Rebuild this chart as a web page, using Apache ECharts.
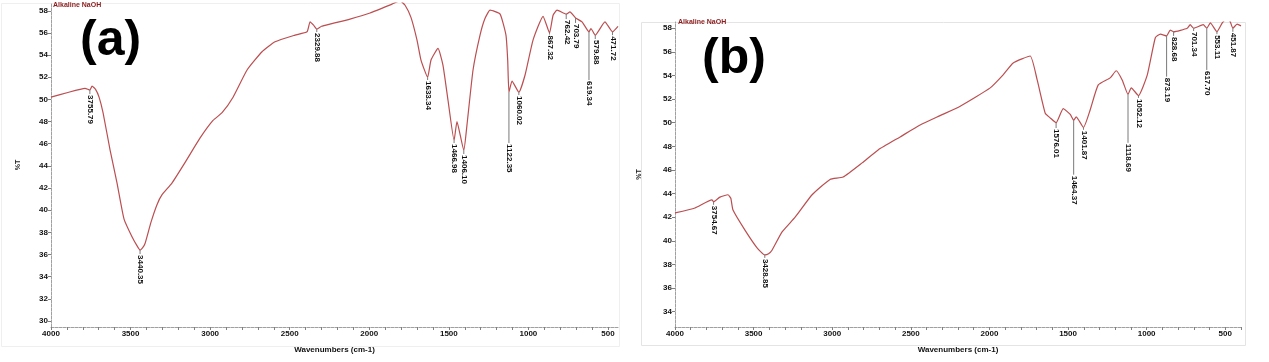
<!DOCTYPE html>
<html><head><meta charset="utf-8">
<script src="https://cdn.jsdelivr.net/npm/echarts@6/dist/echarts.min.js"></script>
<style>html,body{margin:0;padding:0;background:#fff}#c{width:1269px;height:362px}</style>
</head><body><div id="c"></div>
<script>
// ---- DATA ----
// Panel (a): [wavenumber cm-1, %T]
const spectrumA = [[4000,50.2],[3900,50.6],[3786,51.0],[3755.79,50.84],[3742,51.2],[3720,50.9],[3698,50.2],[3673,48.8],[3629,45.45],[3585,42.45],[3541,39.2],[3491,37.6],[3460,36.8],[3440.35,36.4],[3425,36.6],[3409,37.0],[3372,38.9],[3334,40.5],[3302,41.4],[3240,42.45],[3158,44.3],[3064,46.5],[2982,48.1],[2925,48.8],[2856,50.2],[2768,52.65],[2674,54.3],[2592,55.2],[2467,55.8],[2391,56.1],[2372,57.0],[2350,56.7],[2329.88,56.35],[2300,56.6],[2247,56.8],[2121,57.25],[1995,57.8],[1857,58.6],[1807,58.9],[1775,58.5],[1738,57.4],[1700,55.35],[1675,53.55],[1633.34,52.0],[1612,53.55],[1568,54.6],[1537,53.1],[1505,49.9],[1466.98,46.3],[1449,48.0],[1406.10,45.4],[1386,47.7],[1348,52.65],[1304,55.8],[1273,57.3],[1241,58.05],[1178,57.7],[1141,55.8],[1130,53.5],[1122.35,50.65],[1103,51.65],[1060.02,50.65],[1021,52.2],[971,55.35],[908,57.5],[867.32,56.0],[845,57.6],[820,58.06],[762.42,57.7],[739,57.9],[703.79,57.35],[663,57.0],[619.34,56.1],[607,56.4],[579.88,55.8],[519,57.0],[471.72,56.1],[437,56.6]];
// Panel (b)
const spectrumB = [[4000,42.36],[3873,42.78],[3765,43.46],[3754.67,43.3],[3714,43.7],[3663,43.9],[3645,43.6],[3631,42.6],[3555,40.9],[3478,39.4],[3428.85,38.8],[3405,38.9],[3383,39.2],[3319,40.75],[3236,42.0],[3128,43.9],[3014,45.2],[2931,45.4],[2810,46.6],[2708,47.7],[2568,48.8],[2441,49.8],[2314,50.6],[2186,51.4],[1995,52.95],[1913,54.05],[1849,55.06],[1741,55.65],[1696,53.6],[1645,50.8],[1613,50.4],[1576.01,50.0],[1531,51.2],[1486,50.7],[1464.37,50.2],[1448,50.5],[1401.87,49.6],[1359,51.1],[1308,53.2],[1232,53.8],[1194,54.4],[1155,53.6],[1118.69,52.4],[1098,52.95],[1052.12,52.3],[996,54.05],[945,57.2],[913,57.5],[873.19,57.35],[850,57.85],[828.68,57.7],[742,58.0],[723,58.3],[701.34,58.0],[640,58.3],[617.70,58.0],[595,58.45],[553.11,57.7],[519,58.45],[491,58.8],[470,58.6],[451.87,58.0],[425,58.35],[400,58.2]];
// Peak annotations: [wavenumber, %T at curve, %T where label starts]
const peaksA = [[3755.79,50.84,50.48],[3440.35,36.4,36.04],[2329.88,56.35,56.08],[1633.34,52.0,51.75],[1466.98,46.3,46.06],[1406.10,45.4,45.07],[1122.35,50.65,46.06],[1060.02,50.65,50.39],[867.32,56.0,55.85],[762.42,57.7,57.25],[703.79,57.35,56.9],[619.34,56.1,51.75],[579.88,55.8,55.45],[471.72,56.1,55.8]];
const peaksB = [[3754.67,43.3,43.05],[3428.85,38.8,38.55],[1576.01,50.0,49.55],[1464.37,50.2,45.6],[1401.87,49.6,49.4],[1118.69,52.4,48.3],[1052.12,52.3,52.1],[873.19,57.35,53.9],[828.68,57.7,57.35],[701.34,58.0,57.77],[617.70,58.0,54.47],[553.11,57.7,57.5],[451.87,58.0,57.7]];
// Tick labels
const xLabels = [4000,3500,3000,2500,2000,1500,1000,500];
const xTicksA = [];
for (let v = 4000; v >= 437; v -= 100) xTicksA.push(v);
const xTicksB = [];
for (let v = 4000; v >= 400; v -= 100) xTicksB.push(v);
const yLabelsA = [30,32,34,36,38,40,42,44,46,48,50,52,54,56,58];
const yLabelsB = [34,36,38,40,42,44,46,48,50,52,54,56,58];

// ---- CHART ----
const FONT = '"Liberation Sans", Arial, sans-serif';
const chart = echarts.init(document.getElementById('c'), null, {renderer:'canvas'});
const plain = function (v) { return String(v); };

function xAxisCfg(gi, min, ticks) {
  return {
    gridIndex: gi, type: 'value', inverse: true, min: min, max: 4000,
    axisLine: {show: true, onZero: false, lineStyle: {color: '#a0a0a0', width: 1, type: [3, 1]}},
    axisTick: {show: true, customValues: ticks, length: 3, lineStyle: {color: '#808080'}},
    axisLabel: {customValues: xLabels, formatter: plain, fontSize: 8, fontWeight: 'bold', color: '#111', margin: 3, fontFamily: FONT},
    splitLine: {show: false},
    name: 'Wavenumbers (cm-1)', nameLocation: 'middle', nameGap: 19,
    nameTextStyle: {fontSize: 8, fontWeight: 'bold', color: '#111', fontFamily: FONT}
  };
}
function yAxisCfg(gi, min, max, labels, gap) {
  return {
    gridIndex: gi, type: 'value', min: min, max: max,
    axisLine: {show: true, lineStyle: {color: '#a0a0a0', width: 1, type: [3, 1]}},
    axisTick: {show: true, customValues: labels, length: 3, lineStyle: {color: '#808080'}},
    axisLabel: {customValues: labels, formatter: plain, fontSize: 8, fontWeight: 'bold', color: '#111', margin: 3, fontFamily: FONT},
    splitLine: {show: false},
    name: '%T', nameLocation: 'middle', nameGap: gap, nameRotate: 90,
    nameTextStyle: {fontSize: 7, fontWeight: 'bold', color: '#222', fontFamily: FONT}
  };
}
function peakSeries(peaks, idx) {
  return {
    type: 'custom', xAxisIndex: idx, yAxisIndex: idx, clip: false, silent: true, z: 5,
    data: peaks,
    renderItem: function (params, api) {
      const p0 = api.coord([api.value(0), api.value(1)]);
      const p1 = api.coord([api.value(0), api.value(2)]);
      return {type: 'group', children: [
        {type: 'line', shape: {x1: p0[0], y1: p0[1], x2: p1[0], y2: p1[1]}, style: {stroke: '#7a7a7a', lineWidth: 1}},
        {type: 'text', x: p1[0] + 0.5, y: p1[1] + 1, rotation: -Math.PI / 2,
         style: {text: api.value(0).toFixed(2), x: 0, y: 0, align: 'left', verticalAlign: 'middle',
                 fill: '#111', font: 'bold 8px ' + FONT}}
      ]};
    }
  };
}
function lineSeries(data, idx) {
  return {
    type: 'line', xAxisIndex: idx, yAxisIndex: idx, data: data, showSymbol: false, symbol: 'none',
    smooth: 0.15, clip: true, silent: true, z: 3,
    lineStyle: {color: '#bb4e50', width: 1.2}
  };
}

chart.setOption({
  animation: false,
  backgroundColor: '#ffffff',
  grid: [
    {left: 51, top: 3, width: 567, height: 324},
    {left: 675, top: 22, width: 566, height: 305}
  ],
  xAxis: [xAxisCfg(0, 437, xTicksA), xAxisCfg(1, 400, xTicksB)],
  yAxis: [yAxisCfg(0, 29.46, 58.7, yLabelsA, 29), yAxisCfg(1, 32.7, 58.53, yLabelsB, 32)],
  series: [lineSeries(spectrumA, 0), lineSeries(spectrumB, 1), peakSeries(peaksA, 0), peakSeries(peaksB, 1)],
  graphic: [
    {type: 'rect', shape: {x: 1.5, y: 3.5, width: 618, height: 343}, style: {fill: 'none', stroke: '#efefef', lineWidth: 1}, z: 0},
    {type: 'rect', shape: {x: 641.5, y: 22.5, width: 604, height: 323}, style: {fill: 'none', stroke: '#e4e4e4', lineWidth: 1}, z: 0},
    {type: 'text', x: 53, y: 2, style: {text: 'Alkaline NaOH', fill: '#8b1c1c', font: 'bold 7px ' + FONT, verticalAlign: 'top'}, z: 10},
    {type: 'text', x: 678, y: 19, style: {text: 'Alkaline NaOH', fill: '#8b1c1c', font: 'bold 7px ' + FONT, verticalAlign: 'top'}, z: 10},
    {type: 'text', x: 80, y: 41, style: {text: '(a)', fill: '#000', font: 'bold 50px ' + FONT, verticalAlign: 'middle'}, z: 10},
    {type: 'text', x: 702, y: 59, style: {text: '(b)', fill: '#000', font: 'bold 50px ' + FONT, verticalAlign: 'middle'}, z: 10}
  ]
});
</script>
</body></html>
